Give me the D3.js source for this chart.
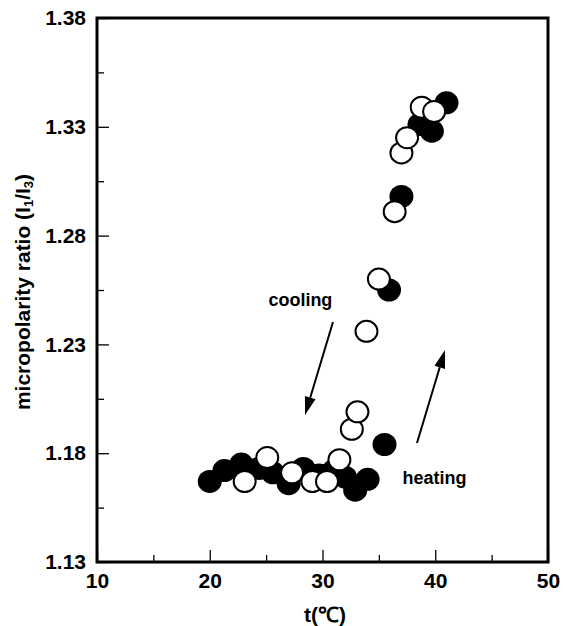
<!DOCTYPE html>
<html>
<head>
<meta charset="utf-8">
<script src="https://cdn.jsdelivr.net/npm/d3@7"></script>
<style>
  body { margin: 0; background: #fff; }
  svg text { font-family: "Liberation Sans", Arial, sans-serif; font-weight: bold; fill: #000; }
</style>
</head>
<body>
<div id="chart"></div>
<script>
// heating run (filled circles)
const heatT = [20, 21.3, 22.8, 24.4, 25.6, 27, 28.3, 29.7, 31, 32, 32.9, 34, 35.5, 35.9, 37, 38.6, 39.7, 41];
const heatV = [1.167, 1.172, 1.175, 1.173, 1.171, 1.166, 1.173, 1.170, 1.172, 1.169, 1.163, 1.168, 1.184, 1.255, 1.298, 1.331, 1.328, 1.341];

// cooling run (open circles)
const coolT = [23.1, 25.1, 27.3, 29.1, 30.4, 31.5, 32.6, 33.1, 33.9, 35, 36.4, 37, 37.5, 38.8, 39.9];
const coolV = [1.167, 1.178, 1.171, 1.167, 1.167, 1.177, 1.191, 1.199, 1.236, 1.260, 1.291, 1.318, 1.325, 1.339, 1.337];

const xTicks = [10, 20, 30, 40, 50];
const yTicks = [1.13, 1.18, 1.23, 1.28, 1.33, 1.38];

// arrows and their labels, in data units
const arrows = [
  { from: [30.93, 1.2403], to: [28.45, 1.1976] },
  { from: [38.38, 1.1847], to: [40.86, 1.2274] }
];
const notes = [
  { text: "cooling", t: 25.2, v: 1.2476 },
  { text: "heating", t: 37.1, v: 1.1658 }
];

const W = 563, H = 626;
const svg = d3.select("#chart").append("svg").attr("width", W).attr("height", H);

const x = d3.scaleLinear().domain([10, 50]).range([97, 548]);
const y = d3.scaleLinear().domain([1.13, 1.38]).range([562, 18]);

// minor ticks (no labels)
svg.append("g")
  .attr("transform", `translate(0,${y(1.13)})`)
  .call(d3.axisBottom(x).tickValues(d3.range(15, 50, 10)).tickSize(-7).tickFormat(""))
  .call(g => g.select(".domain").remove());
svg.append("g")
  .attr("transform", `translate(${x(10)},0)`)
  .call(d3.axisLeft(y).tickValues(yTicks.slice(0, -1).map(d => d + 0.025)).tickSize(-7).tickFormat(""))
  .call(g => g.select(".domain").remove());

// major ticks
const xAxis = svg.append("g")
  .attr("transform", `translate(0,${y(1.13)})`)
  .call(d3.axisBottom(x).tickValues(xTicks).tickSize(-12).tickPadding(11).tickFormat(d3.format("d")));
const yAxis = svg.append("g")
  .attr("transform", `translate(${x(10)},0)`)
  .call(d3.axisLeft(y).tickValues(yTicks).tickSize(-12).tickPadding(11).tickFormat(d3.format(".2f")));

[xAxis, yAxis].forEach(g => {
  g.select(".domain").remove();
  g.selectAll("text").style("font-size", "21px").style("font-family", "Liberation Sans, Arial, sans-serif").style("font-weight", "bold");
});
svg.selectAll(".tick line").attr("stroke", "#000").attr("stroke-width", 1.3);

// frame
svg.append("rect")
  .attr("x", x(10)).attr("y", y(1.38))
  .attr("width", x(50) - x(10)).attr("height", y(1.13) - y(1.38))
  .attr("fill", "none").attr("stroke", "#000").attr("stroke-width", 3);

// points
const filled = heatT.map((t, i) => ({ t, v: heatV[i] }));
const open = coolT.map((t, i) => ({ t, v: coolV[i] }));

svg.append("g").selectAll("ellipse").data(filled).join("ellipse")
  .attr("cx", d => x(d.t)).attr("cy", d => y(d.v))
  .attr("rx", 12).attr("ry", 11.5)
  .attr("fill", "#000");

svg.append("g").selectAll("ellipse").data(open).join("ellipse")
  .attr("cx", d => x(d.t)).attr("cy", d => y(d.v))
  .attr("rx", 11).attr("ry", 10.5)
  .attr("fill", "#fff").attr("stroke", "#000").attr("stroke-width", 2);

// arrows
arrows.forEach(a => {
  const x0 = x(a.from[0]), y0 = y(a.from[1]);
  const x1 = x(a.to[0]), y1 = y(a.to[1]);
  const ang = Math.atan2(y1 - y0, x1 - x0);
  const len = 18, half = 5.5;
  const bx = x1 - len * Math.cos(ang), by = y1 - len * Math.sin(ang);
  svg.append("line")
    .attr("x1", x0).attr("y1", y0).attr("x2", bx).attr("y2", by)
    .attr("stroke", "#000").attr("stroke-width", 2);
  const px = -Math.sin(ang) * half, py = Math.cos(ang) * half;
  svg.append("polygon")
    .attr("points", [[x1, y1], [bx + px, by + py], [bx - px, by - py]].map(p => p.join(",")).join(" "))
    .attr("fill", "#000");
});

svg.selectAll(".note").data(notes).join("text")
  .attr("class", "note")
  .attr("x", d => x(d.t)).attr("y", d => y(d.v))
  .style("font-size", "18px")
  .text(d => d.text);

// axis titles
const yTitle = svg.append("text")
  .attr("transform", "translate(30,292) rotate(-90)")
  .attr("text-anchor", "middle")
  .style("font-size", "21px");
yTitle.append("tspan").text("micropolarity ratio (I");
yTitle.append("tspan").attr("dy", 3).style("font-size", "13px").text("1");
yTitle.append("tspan").attr("dy", -3).text("/I");
yTitle.append("tspan").attr("dy", 3).style("font-size", "13px").text("3");
yTitle.append("tspan").attr("dy", -3).text(")");

svg.append("text")
  .attr("x", 325).attr("y", 622)
  .attr("text-anchor", "middle")
  .style("font-size", "21px")
  .text("t(℃)");
</script>
</body>
</html>
